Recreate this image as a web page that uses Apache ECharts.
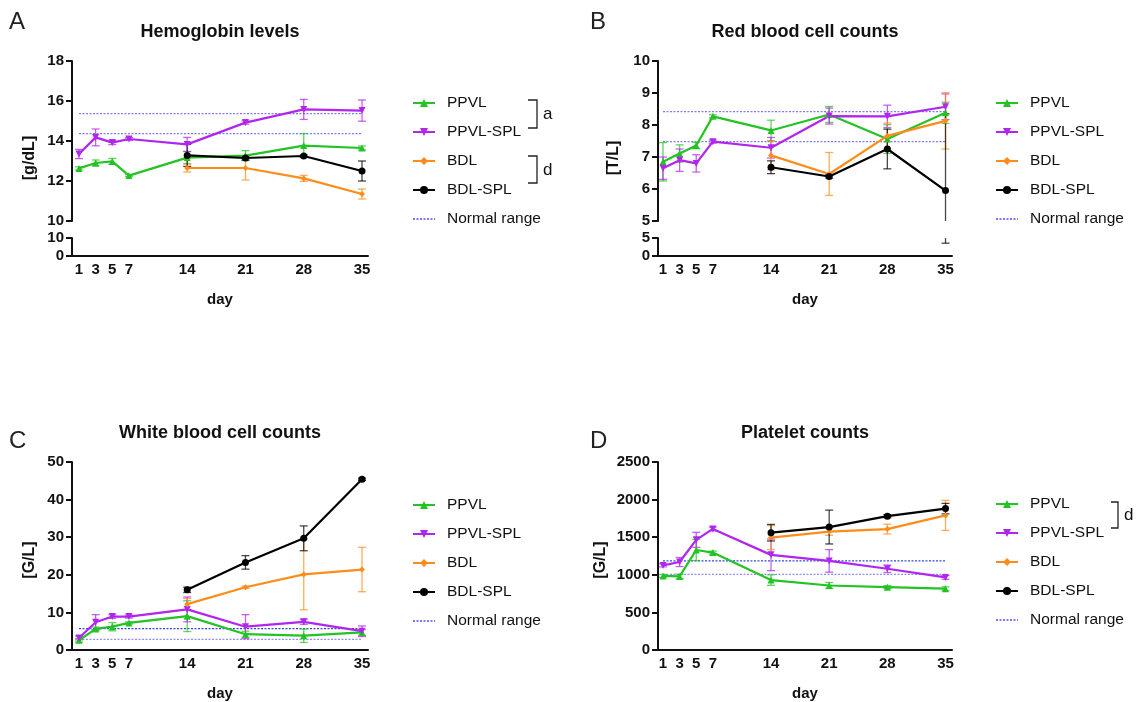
<!DOCTYPE html>
<html>
<head>
<meta charset="utf-8">
<script src="https://cdn.jsdelivr.net/npm/echarts@6/dist/echarts.min.js"></script>
<style>html,body{margin:0;padding:0;background:#fff}#c{width:1140px;height:702px}</style>
</head>
<body>
<div id="c"></div>
<script>
// ---------- data ----------
const daysAll = [1, 3, 5, 7, 14, 21, 28, 35];
const daysBDL = [14, 21, 28, 35];
const dayTicks = [1, 3, 5, 7, 14, 21, 28, 35];

// A: Hemoglobin [g/dL]
const hbPPVL = [12.63, 12.9, 12.98, 12.27, 13.17, 13.27, 13.77, 13.65];
const hbPPVLErr = [0.08, 0.15, 0.15, 0.05, 0.3, 0.25, 0.6, 0.1];
const hbPPVLSPL = [13.35, 14.18, 13.92, 14.1, 13.83, 14.92, 15.58, 15.52];
const hbPPVLSPLErr = [0.23, 0.42, 0.1, 0.07, 0.35, 0.08, 0.5, 0.53];
const hbBDL = [12.65, 12.65, 12.13, 11.35];
const hbBDLErr = [0.2, 0.6, 0.15, 0.25];
const hbBDLSPL = [13.28, 13.15, 13.25, 12.5];
const hbBDLSPLErr = [0.55, 0.1, 0.05, 0.5];
const hbNormal = [14.37, 15.37];

// B: Red blood cells [T/L]
const rbcPPVL = [6.85, 7.11, 7.36, 8.27, 7.83, 8.33, 7.56, 8.38];
const rbcPPVLErr = [0.6, 0.27, 0.1, 0.05, 0.32, 0.25, 0.45, 0.33];
const rbcPPVLSPL = [6.65, 6.9, 6.8, 7.48, 7.29, 8.28, 8.27, 8.57];
const rbcPPVLSPLErr = [0.35, 0.35, 0.27, 0.05, 0.32, 0.25, 0.35, 0.4];
const rbcBDL = [7.05, 6.47, 7.66, 8.13];
const rbcBDLErr = [0.45, 0.67, 0.4, 0.88];
const rbcBDLSPL = [6.68, 6.39, 7.25, 5.95];
const rbcBDLSPLErr = [0.2, 0.05, 0.62, 2.4];
const rbcNormal = [7.48, 8.42];

// C: White blood cells [G/L]
const wbcPPVL = [2.6, 5.6, 6.2, 7.2, 9.0, 4.2, 3.8, 4.7];
const wbcPPVLErr = [0.5, 0.5, 1.1, 0.3, 4.1, 0.8, 1.8, 0.8];
const wbcPPVLSPL = [3.2, 7.4, 8.9, 8.9, 10.8, 6.2, 7.5, 5.0];
const wbcPPVLSPLErr = [0.5, 2.0, 0.5, 0.4, 3.3, 3.2, 0.7, 1.4];
const wbcBDL = [12.2, 16.7, 20.1, 21.4];
const wbcBDLErr = [1.5, 0.3, 9.4, 5.9];
const wbcBDLSPL = [16.0, 23.3, 29.7, 45.4];
const wbcBDLSPLErr = [0.7, 1.8, 3.3, 0.3];
const wbcNormal = [2.8, 5.7];

// D: Platelets [G/L]
const pltPPVL = [985, 978, 1330, 1295, 930, 858, 836, 815];
const pltPPVLErr = [20, 30, 140, 20, 70, 40, 20, 25];
const pltPPVLSPL = [1125, 1170, 1465, 1610, 1265, 1185, 1080, 965];
const pltPPVLSPLErr = [20, 60, 100, 25, 210, 150, 50, 25];
const pltBDL = [1495, 1575, 1608, 1790];
const pltBDLErr = [160, 50, 65, 200];
const pltBDLSPL = [1560, 1635, 1780, 1880];
const pltBDLSPLErr = [110, 225, 20, 70];
const pltNormal = [1005, 1185];

const seriesNames = ['PPVL', 'PPVL-SPL', 'BDL', 'BDL-SPL'];
const normalName = 'Normal range';
const legendNames = ['PPVL', 'PPVL-SPL', 'BDL', 'BDL-SPL', 'Normal range'];

// ---------- styles ----------
const STY = {
  'PPVL':     {color: '#22c322', symbol: 'triangle', rotate: 0,   size: 7},
  'PPVL-SPL': {color: '#b026ee', symbol: 'triangle', rotate: 180, size: 7},
  'BDL':      {color: '#ff8c1a', symbol: 'diamond',  rotate: 0,   size: 6},
  'BDL-SPL':  {color: '#000000', symbol: 'circle',   rotate: 0,   size: 7}
};
const FONT = '"Liberation Sans", Arial, Helvetica, sans-serif';

const panels = [
  {grids: [0, 1], sets: [[daysAll, hbPPVL, hbPPVLErr], [daysAll, hbPPVLSPL, hbPPVLSPLErr], [daysBDL, hbBDL, hbBDLErr], [daysBDL, hbBDLSPL, hbBDLSPLErr]], normal: hbNormal, normColors: ['#7b7bff', '#7b7bff']},
  {grids: [2, 3], sets: [[daysAll, rbcPPVL, rbcPPVLErr], [daysAll, rbcPPVLSPL, rbcPPVLSPLErr], [daysBDL, rbcBDL, rbcBDLErr], [daysBDL, rbcBDLSPL, rbcBDLSPLErr]], normal: rbcNormal, normColors: ['#7b7bff', '#7b7bff']},
  {grids: [4], sets: [[daysAll, wbcPPVL, wbcPPVLErr], [daysAll, wbcPPVLSPL, wbcPPVLSPLErr], [daysBDL, wbcBDL, wbcBDLErr], [daysBDL, wbcBDLSPL, wbcBDLSPLErr]], normal: wbcNormal, normColors: ['#8f8fff', '#3047e6']},
  {grids: [5], sets: [[daysAll, pltPPVL, pltPPVLErr], [daysAll, pltPPVLSPL, pltPPVLSPLErr], [daysBDL, pltBDL, pltBDLErr], [daysBDL, pltBDLSPL, pltBDLSPLErr]], normal: pltNormal, normColors: ['#8f8fff', '#3047e6']}
];

// ---------- layout ----------
const gridDefs = [
  {left: 72,  top: 61,  width: 296, height: 160},
  {left: 72,  top: 238, width: 296, height: 18},
  {left: 658, top: 61,  width: 294, height: 160},
  {left: 658, top: 238, width: 294, height: 18},
  {left: 72,  top: 462, width: 296, height: 195},
  {left: 658, top: 462, width: 294, height: 195}
];
const xRangeL = [0.16, 35.72], xRangeR = [0.4, 35.78];
const yDefs = [
  {min: 10, max: 18, interval: 2},
  {min: 0, max: 10, interval: 10},
  {min: 5, max: 10, interval: 1},
  {min: 0, max: 5, interval: 5},
  {min: 0, max: 50, interval: 10},
  {min: 0, max: 2500, interval: 500}
];
const showX = [false, true, false, true, true, true];

const axisLineStyle = {color: '#111', width: 2};
const xAxes = gridDefs.map((g, i) => {
  const r = (i === 2 || i === 3 || i === 5) ? xRangeR : xRangeL;
  return {
    gridIndex: i, type: 'value', min: r[0], max: r[1], show: showX[i],
    axisLine: {show: true, onZero: false, lineStyle: axisLineStyle},
    axisTick: {show: false}, splitLine: {show: false},
    axisLabel: {customValues: dayTicks, color: '#111', fontFamily: FONT, fontWeight: 'bold', fontSize: 15, margin: 6},
    name: 'day', nameLocation: 'middle', nameGap: 36,
    nameTextStyle: {color: '#111', fontFamily: FONT, fontWeight: 'bold', fontSize: 15}
  };
});
const yAxes = yDefs.map((d, i) => ({
  gridIndex: i, type: 'value', min: d.min, max: d.max, interval: d.interval,
  axisLine: {show: true, onZero: false, lineStyle: axisLineStyle},
  axisTick: {show: true, inside: false, length: 6, lineStyle: {color: '#111', width: 2}},
  splitLine: {show: false},
  axisLabel: {color: '#111', fontFamily: FONT, fontWeight: 'bold', fontSize: 15, margin: 8,
    formatter: v => String(v)}
}));

// ---------- series ----------
function errRender(color) {
  return function (params, api) {
    const x = api.value(0), lo = api.value(1), hi = api.value(2);
    const p1 = api.coord([x, hi]), p2 = api.coord([x, lo]);
    const w = 4;
    const style = {stroke: color, lineWidth: 1.3, opacity: 0.72};
    return {type: 'group', children: [
      {type: 'line', shape: {x1: p1[0], y1: p1[1], x2: p2[0], y2: p2[1]}, style: style},
      {type: 'line', shape: {x1: p1[0] - w, y1: p1[1], x2: p1[0] + w, y2: p1[1]}, style: style},
      {type: 'line', shape: {x1: p2[0] - w, y1: p2[1], x2: p2[0] + w, y2: p2[1]}, style: style}
    ]};
  };
}

const series = [];
panels.forEach(p => {
  const gMain = p.grids[0];
  p.normal.forEach((v, k) => {
    series.push({
      type: 'line', name: normalName, xAxisIndex: gMain, yAxisIndex: gMain,
      data: [[1, v], [35, v]], symbol: 'none', silent: true, z: 1,
      lineStyle: {color: p.normColors[k], width: 1.3, type: [2, 1.5]},
      itemStyle: {color: p.normColors[k]}
    });
  });
  p.sets.forEach((s, k) => {
    const name = seriesNames[k], st = STY[name];
    const days = s[0], vals = s[1], errs = s[2];
    p.grids.forEach(g => {
      series.push({
        type: 'custom', name: name + ' SD', xAxisIndex: g, yAxisIndex: g, clip: true, z: 3,
        renderItem: errRender(st.color), encode: {x: 0, y: [1, 2]},
        data: days.map((d, i) => [d, vals[i] - errs[i], vals[i] + errs[i]])
      });
    });
    series.push({
      type: 'line', name: name, xAxisIndex: gMain, yAxisIndex: gMain, z: 4,
      data: days.map((d, i) => [d, vals[i]]),
      symbol: st.symbol, symbolSize: st.size, symbolRotate: st.rotate,
      lineStyle: {color: st.color, width: 2.2}, itemStyle: {color: st.color}
    });
  });
});

// ---------- legends ----------
function legendAt(left, top) {
  return {
    data: legendNames.map(n => n === normalName
      ? {name: n, itemStyle: {color: 'rgba(0,0,0,0)', borderWidth: 0, opacity: 0}}
      : {name: n}),
    orient: 'vertical', left: left, top: top, padding: 0,
    itemWidth: 22, itemHeight: 10, itemGap: 13, selectedMode: false,
    textStyle: {fontFamily: FONT, fontSize: 15.5, color: '#111', lineHeight: 14, padding: [0, 0, 0, 7]}
  };
}
const legends = [legendAt(412, 95), legendAt(995, 95), legendAt(412, 497), legendAt(995, 496)];

// ---------- texts ----------
function txt(text, x, y, font, opts) {
  opts = opts || {};
  return {type: 'text', x: x, y: y, rotation: opts.rot || 0, silent: true,
    style: {text: text, font: font, fill: opts.fill || '#111',
      align: opts.align || 'center', verticalAlign: 'middle',
      textAlign: opts.align || 'center', textVerticalAlign: 'middle'}};
}
const titleFont = 'bold 18px ' + FONT;
const nameFont = 'bold 16px ' + FONT;
const letterFont = '24px ' + FONT;
const markFont = '17px ' + FONT;
function bracket(x1, x2, y1, y2) {
  return {type: 'polyline', silent: true, shape: {points: [[x1, y1], [x2, y1], [x2, y2], [x1, y2]]},
    style: {stroke: '#222', lineWidth: 1.3, fill: null}};
}
const graphics = [
  txt('A', 9, 22, letterFont, {align: 'left', fill: '#222'}),
  txt('B', 590, 22, letterFont, {align: 'left', fill: '#222'}),
  txt('C', 9, 441, letterFont, {align: 'left', fill: '#222'}),
  txt('D', 590, 441, letterFont, {align: 'left', fill: '#222'}),
  txt('Hemoglobin levels', 220, 32, titleFont),
  txt('Red blood cell counts', 805, 32, titleFont),
  txt('White blood cell counts', 220, 433, titleFont),
  txt('Platelet counts', 805, 433, titleFont),
  txt('[g/dL]', 30, 158, nameFont, {rot: Math.PI / 2}),
  txt('[T/L]', 614, 158, nameFont, {rot: Math.PI / 2}),
  txt('[G/L]', 30, 560, nameFont, {rot: Math.PI / 2}),
  txt('[G/L]', 601, 560, nameFont, {rot: Math.PI / 2}),
  bracket(528, 537, 100, 128), txt('a', 543, 114, markFont, {align: 'left'}),
  bracket(528, 537, 156, 183), txt('d', 543, 170, markFont, {align: 'left'}),
  bracket(1111, 1118, 502, 528), txt('d', 1124, 515, markFont, {align: 'left'})
];

const chart = echarts.init(document.getElementById('c'), null, {renderer: 'canvas'});
chart.setOption({
  animation: false,
  backgroundColor: '#ffffff',
  grid: gridDefs,
  xAxis: xAxes,
  yAxis: yAxes,
  legend: legends,
  series: series,
  graphic: graphics
});
</script>
</body>
</html>
